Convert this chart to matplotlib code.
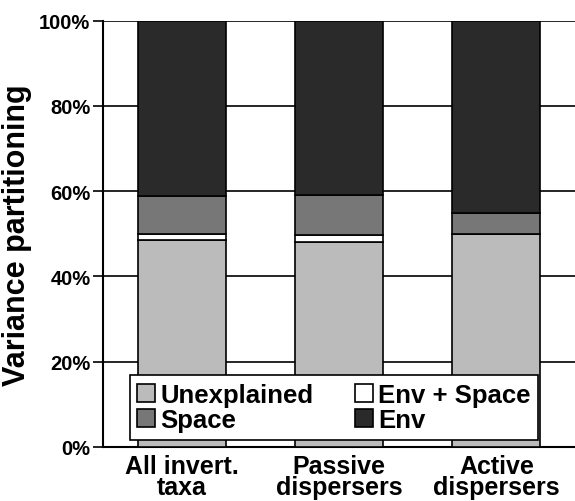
import numpy as np
import matplotlib.pyplot as plt

plt.rcParams['font.family'] = ['Liberation Sans', 'DejaVu Sans']
plt.rcParams['font.weight'] = 'bold'

groups = ['All invert.\ntaxa', 'Passive\ndispersers', 'Active\ndispersers']
unexplained = [48.5, 48.1, 49.9]
env_space = [1.4, 1.6, 0.0]
space = [9.0, 9.5, 5.0]
env = [41.1, 40.8, 45.1]

series = [('Unexplained', unexplained, '#bbbbbb'),
          ('Env + Space', env_space, '#ffffff'),
          ('Space', space, '#777777'),
          ('Env', env, '#2a2a2a')]

fig = plt.figure(figsize=(5.75, 5.02), dpi=100)
ax = fig.add_axes([103 / 575, 1 - 448 / 502, 472 / 575, 426.5 / 502])

x = np.arange(len(groups))
bottom = np.zeros(len(groups))
handles = {}
for name, vals, col in series:
    b = ax.bar(x, vals, 0.56, bottom=bottom, color=col, edgecolor='black',
               linewidth=1.2, label=name, zorder=3)
    handles[name] = b
    bottom = bottom + np.array(vals)

ax.set_xlim(-0.5, 2.5)
ax.set_ylim(0, 100)
ax.set_yticks(np.arange(0, 101, 20))
ax.set_yticklabels([f'{v}%' for v in range(0, 101, 20)], fontsize=14.5, fontweight='bold')
ax.set_xticks(x)
ax.set_xticklabels(groups, fontsize=18, fontweight='bold', linespacing=0.85)
ax.tick_params(axis='x', length=0, pad=5)
ax.tick_params(axis='y', length=7, width=1.2, pad=2)
ax.yaxis.grid(True, color='black', linewidth=1.2, zorder=0)
ax.set_axisbelow(True)
for s in ['top', 'right']:
    ax.spines[s].set_visible(False)
ax.spines['left'].set_linewidth(1.5)
ax.spines['bottom'].set_linewidth(1.5)
ax.set_ylabel('Variance partitioning', fontsize=22, fontweight='bold', labelpad=5)

order = ['Unexplained', 'Space', 'Env + Space', 'Env']
leg = ax.legend([handles[n] for n in order], order, ncol=2, loc='lower center',
                bbox_to_anchor=(0.489, 0.016), borderaxespad=0,
                prop={'weight': 'bold', 'size': 18.5}, fancybox=False, framealpha=1,
                edgecolor='black', handlelength=0.7, handleheight=0.7,
                handletextpad=0.2, columnspacing=1.6, labelspacing=0.05,
                borderpad=0.3)
leg.get_frame().set_linewidth(1.2)
leg.set_zorder(5)

fig.savefig('out.png', dpi=100)
